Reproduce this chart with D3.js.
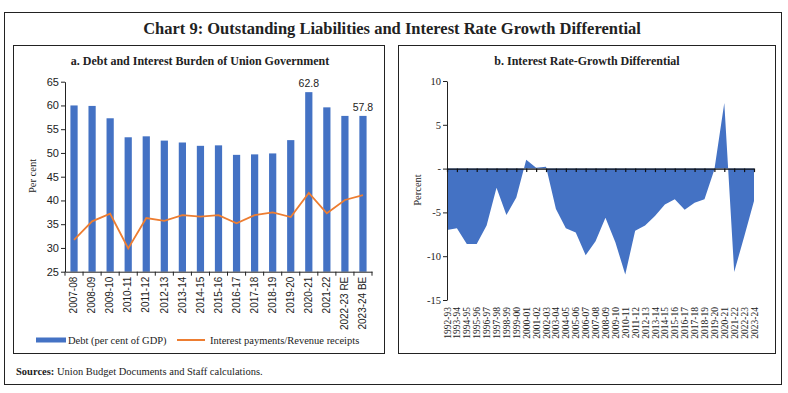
<!DOCTYPE html>
<html>
<head>
<meta charset="utf-8">
<script src="https://cdn.jsdelivr.net/npm/d3@7"></script>
<style>
  body { margin: 0; background: #fff; }
  svg { display: block; }
</style>
</head>
<body>
<svg id="chart" width="788" height="393"></svg>
<script>
// ---- data: panel a
const yearsA = ["2007-08", "2008-09", "2009-10", "2010-11", "2011-12", "2012-13", "2013-14",
  "2014-15", "2015-16", "2016-17", "2017-18", "2018-19", "2019-20", "2020-21", "2021-22",
  "2022-23 RE", "2023-24 BE"];
const debtGdp = [60.0, 59.9, 57.3, 53.3, 53.5, 52.6, 52.2, 51.5, 51.6, 49.6, 49.7, 49.9,
  52.7, 62.8, 59.6, 57.8, 57.8];
const interestRevenue = [31.7, 35.6, 37.2, 29.9, 36.3, 35.7, 36.9, 36.6, 36.9, 35.2, 36.9,
  37.5, 36.5, 41.6, 37.3, 40.1, 41.1];
const ticksA = [25, 30, 35, 40, 45, 50, 55, 60, 65];
const labelledBars = ["2020-21", "2023-24 BE"];

// ---- data: panel b
const yearsB = ["1992-93", "1993-94", "1994-95", "1995-96", "1996-97", "1997-98", "1998-99",
  "1999-00", "2000-01", "2001-02", "2002-03", "2003-04", "2004-05", "2005-06", "2006-07",
  "2007-08", "2008-09", "2009-10", "2010-11", "2011-12", "2012-13", "2013-14", "2014-15",
  "2015-16", "2016-17", "2017-18", "2018-19", "2019-20", "2020-21", "2021-22", "2022-23",
  "2023-24"];
const irgDiff = [-7.0, -6.8, -8.6, -8.6, -6.5, -2.2, -5.3, -3.3, 1.0, 0.1, 0.2, -4.6, -6.8,
  -7.3, -9.9, -8.3, -5.6, -8.4, -12.1, -7.1, -6.5, -5.4, -4.1, -3.5, -4.7, -3.9, -3.5,
  -0.1, 7.5, -11.8, -7.8, -3.7];
const ticksB = [-15, -10, -5, 0, 5, 10];

const blue = "#4472C4";
const orange = "#ED7D31";
const serif = "'Liberation Serif', 'DejaVu Serif', serif";
const sans = "'Liberation Sans', Arial, sans-serif";

const svg = d3.select("#chart");

// frames
svg.append("rect").attr("x", 4.5).attr("y", 12.5).attr("width", 777).attr("height", 372)
  .attr("fill", "none").attr("stroke", "#222").attr("stroke-width", 1);
svg.append("rect").attr("x", 13.5).attr("y", 45.5).attr("width", 371).attr("height", 308)
  .attr("fill", "none").attr("stroke", "#222").attr("stroke-width", 1);
svg.append("rect").attr("x", 398.5).attr("y", 45.5).attr("width", 377).attr("height", 308)
  .attr("fill", "none").attr("stroke", "#222").attr("stroke-width", 1);

svg.append("text").attr("x", 392).attr("y", 34).attr("text-anchor", "middle")
  .style("font-family", serif).style("font-size", "16.5px").style("font-weight", "bold")
  .attr("fill", "#222")
  .text("Chart 9: Outstanding Liabilities and Interest Rate Growth Differential");

svg.append("text").attr("x", 200).attr("y", 65).attr("text-anchor", "middle")
  .style("font-family", serif).style("font-size", "12px").style("font-weight", "bold")
  .attr("fill", "#222").text("a. Debt and Interest Burden of Union Government");

svg.append("text").attr("x", 587).attr("y", 65).attr("text-anchor", "middle")
  .style("font-family", serif).style("font-size", "12px").style("font-weight", "bold")
  .attr("fill", "#222").text("b. Interest Rate-Growth Differential");

const src = svg.append("text").attr("x", 16).attr("y", 375)
  .style("font-family", serif).style("font-size", "10.5px").attr("fill", "#222");
src.append("tspan").style("font-weight", "bold").text("Sources:");
src.append("tspan").text(" Union Budget Documents and Staff calculations.");

// ---------- panel a ----------
const a = { left: 65, right: 372, top: 81.7, bottom: 271.7 };
const xA = d3.scaleBand().domain(yearsA).range([a.left, a.right])
  .paddingInner(0.6).paddingOuter(0.3);
const yA = d3.scaleLinear().domain([25, 65]).range([a.bottom, a.top]);

const gA = svg.append("g");

gA.selectAll(".bar").data(yearsA).join("rect")
  .attr("class", "bar")
  .attr("x", d => xA(d))
  .attr("width", xA.bandwidth())
  .attr("y", (d, i) => yA(debtGdp[i]))
  .attr("height", (d, i) => yA(25) - yA(debtGdp[i]))
  .attr("fill", blue);

gA.selectAll(".lbl").data(yearsA.filter(d => labelledBars.includes(d))).join("text")
  .attr("class", "lbl")
  .attr("x", d => xA(d) + xA.bandwidth() / 2)
  .attr("y", d => yA(debtGdp[yearsA.indexOf(d)]) - 5)
  .attr("text-anchor", "middle")
  .style("font-family", sans).style("font-size", "10.5px").attr("fill", "#222")
  .text(d => debtGdp[yearsA.indexOf(d)].toFixed(1));

const line = d3.line()
  .x((d, i) => xA(yearsA[i]) + xA.bandwidth() / 2)
  .y(d => yA(d));
gA.append("path").datum(interestRevenue)
  .attr("d", line).attr("fill", "none").attr("stroke", orange).attr("stroke-width", 1.8);

const yAxisA = d3.axisLeft(yA).tickValues(ticksA).tickSize(4).tickSizeOuter(0);
gA.append("g").attr("transform", `translate(${a.left},0)`).call(yAxisA)
  .call(g => g.selectAll("text").style("font-family", sans).style("font-size", "11px")
    .attr("fill", "#222").attr("x", -6))
  .call(g => g.selectAll("line,path").attr("stroke", "#222"));

const xAxisA = d3.axisBottom(xA).tickSize(0).tickSizeOuter(0);
const xAG = gA.append("g").attr("transform", `translate(0,${a.bottom})`).call(xAxisA);
xAG.select("path").attr("stroke", "#222");
xAG.selectAll("text")
  .attr("transform", "rotate(-90)")
  .attr("x", -5).attr("y", 0).attr("dy", "0.32em")
  .style("text-anchor", "end")
  .style("font-family", sans).style("font-size", "10px").attr("fill", "#222");

// tick marks sit between categories, Excel style
const stepA = xA.step();
const firstEdge = xA(yearsA[0]) - (stepA - xA.bandwidth()) / 2;
xAG.selectAll(".btick").data(d3.range(yearsA.length + 1)).join("line")
  .attr("class", "btick")
  .attr("x1", i => firstEdge + i * stepA)
  .attr("x2", i => firstEdge + i * stepA)
  .attr("y1", 0).attr("y2", 4).attr("stroke", "#222");

svg.append("text")
  .attr("transform", `translate(36,176) rotate(-90)`)
  .attr("text-anchor", "middle")
  .style("font-family", serif).style("font-size", "10.5px").attr("fill", "#222")
  .text("Per cent");

// legend
const leg = svg.append("g");
leg.append("rect").attr("x", 36).attr("y", 337.5).attr("width", 30).attr("height", 5)
  .attr("fill", blue);
leg.append("text").attr("x", 68).attr("y", 343.5)
  .style("font-family", serif).style("font-size", "10.5px").attr("fill", "#222")
  .text("Debt (per cent of GDP)");
leg.append("line").attr("x1", 177).attr("x2", 205).attr("y1", 340).attr("y2", 340)
  .attr("stroke", orange).attr("stroke-width", 2);
leg.append("text").attr("x", 210).attr("y", 343.5)
  .style("font-family", serif).style("font-size", "10.5px").attr("fill", "#222")
  .text("Interest payments/Revenue receipts");

// ---------- panel b ----------
const b = { left: 447, right: 754, top: 81, bottom: 300 };
const xB = d3.scalePoint().domain(yearsB).range([b.left, b.right]);
const yB = d3.scaleLinear().domain([-15, 10]).range([b.bottom, b.top]);

const gB = svg.append("g");

const area = d3.area()
  .x((d, i) => xB(yearsB[i]))
  .y0(yB(0))
  .y1(d => yB(d));
gB.append("path").datum(irgDiff).attr("d", area).attr("fill", blue);

const yAxisB = d3.axisLeft(yB).tickValues(ticksB).tickSize(4).tickSizeOuter(0)
  .tickFormat(d => d === 0 ? "-" : String(d));
gB.append("g").attr("transform", `translate(${b.left},0)`).call(yAxisB)
  .call(g => g.selectAll("text").style("font-family", serif).style("font-size", "10.5px")
    .attr("fill", "#222").attr("x", -6))
  .call(g => g.selectAll("line,path").attr("stroke", "#222"));

// zero line with ticks
const xAxisB0 = d3.axisBottom(xB).tickSize(3.5).tickSizeOuter(0).tickFormat("");
gB.append("g").attr("transform", `translate(0,${yB(0)})`).call(xAxisB0)
  .call(g => g.selectAll("line,path").attr("stroke", "#111").attr("stroke-width", 1.2));

// category labels at the bottom
const xAxisB = d3.axisBottom(xB).tickSize(0).tickSizeOuter(0);
gB.append("g").attr("transform", `translate(0,${b.bottom})`).call(xAxisB)
  .call(g => g.select("path").remove())
  .selectAll("text")
  .attr("transform", "rotate(-90)")
  .attr("x", -7).attr("y", 0).attr("dy", "0.32em")
  .style("text-anchor", "end")
  .style("font-family", serif).style("font-size", "9.5px").attr("fill", "#222");

svg.append("text")
  .attr("transform", `translate(421,190) rotate(-90)`)
  .attr("text-anchor", "middle")
  .style("font-family", serif).style("font-size", "10.5px").attr("fill", "#222")
  .text("Percent");
</script>
</body>
</html>
